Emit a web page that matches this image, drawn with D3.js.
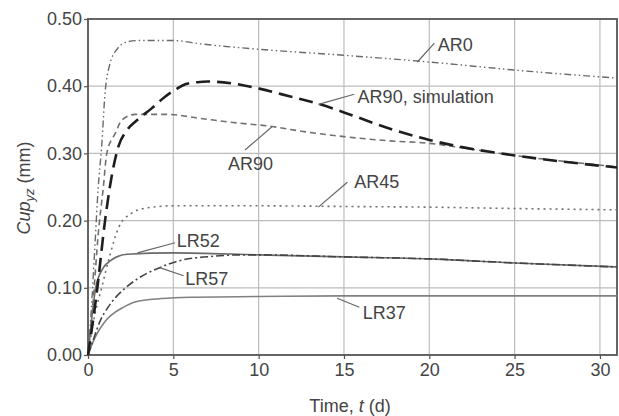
<!DOCTYPE html>
<html><head><meta charset="utf-8">
<script src="https://cdn.jsdelivr.net/npm/d3@7"></script>
<style>body{margin:0;background:#fff}svg{display:block}</style>
</head><body>
<svg id="c" width="619" height="416"></svg>
<script>
// ---- data ----
const xTicks = [0,5,10,15,20,25,30];
const yTicks = [0.00,0.10,0.20,0.30,0.40,0.50];

const AR0_t = [0,0.2,0.4,0.6,0.8,1.0,1.25,1.7,2.3,3,5,6.6,10,15,20,25,31];
const AR0_v = [0,0.07,0.16,0.25,0.31,0.39,0.43,0.455,0.466,0.468,0.468,0.463,0.455,0.446,0.436,0.424,0.412];

const SIM_t = [0,0.5,1.0,1.3,1.78,2.27,2.85,3.73,4.5,5.2,5.7,6.4,7.0,8.5,10.1,11.8,13.6,15,17.9,20,22,25,31];
const SIM_v = [0,0.09,0.2,0.253,0.31,0.334,0.349,0.367,0.384,0.396,0.403,0.406,0.407,0.404,0.396,0.385,0.373,0.361,0.335,0.320,0.309,0.297,0.279];

const AR90_t = [0,0.3,0.6,0.9,1.1,1.6,2.0,2.75,4.7,6.6,8.5,10.8,12.5,15,17.5,20,22,25,31];
const AR90_v = [0,0.08,0.18,0.25,0.30,0.33,0.35,0.358,0.358,0.352,0.346,0.340,0.333,0.325,0.319,0.315,0.308,0.297,0.28];

const AR45_t = [0,0.4,0.8,1.3,1.8,2.5,3.5,5,10,15,20,25,31];
const AR45_v = [0,0.06,0.10,0.15,0.19,0.21,0.219,0.222,0.222,0.221,0.220,0.218,0.216];

const LR52_t = [0,0.2,0.45,0.9,1.3,2.3,5,10,15,20,25,31];
const LR52_v = [0,0.05,0.10,0.13,0.14,0.15,0.152,0.149,0.146,0.143,0.137,0.131];

const LR57_t = [0,0.3,0.7,1.2,1.7,2.2,3,4.2,5.3,7.4,9,10,15,20,25,31];
const LR57_v = [0,0.022,0.05,0.072,0.088,0.10,0.115,0.13,0.14,0.147,0.149,0.149,0.146,0.143,0.137,0.131];

const LR37_t = [0,0.3,0.6,1.0,1.4,2,2.75,4.3,6,10,15,20,25,31];
const LR37_v = [0,0.02,0.035,0.05,0.06,0.07,0.079,0.084,0.086,0.087,0.088,0.088,0.088,0.088];

// ---- layout ----
const svg = d3.select("#c");
const L = 88, R = 617, T = 19, B = 355;
const x = d3.scaleLinear().domain([0,31]).range([L,R]);
const y = d3.scaleLinear().domain([0,0.5]).range([B,T]);
const font = "'Liberation Sans', Arial, sans-serif";
const txt = "#444";
const fs = "18px";

// grid
svg.append("g").selectAll("line").data(xTicks.filter(d=>d>0)).join("line")
  .attr("x1",d=>x(d)).attr("x2",d=>x(d)).attr("y1",T).attr("y2",B)
  .attr("stroke","#bdbdbd").attr("stroke-width",1.2);
svg.append("g").selectAll("line").data(yTicks.filter(d=>d>0 && d<0.5)).join("line")
  .attr("y1",d=>y(d)).attr("y2",d=>y(d)).attr("x1",L).attr("x2",R)
  .attr("stroke","#bdbdbd").attr("stroke-width",1.2);

// axes
const xAxis = svg.append("g").attr("transform",`translate(0,${B})`)
  .call(d3.axisBottom(x).tickValues(xTicks).tickSize(4).tickPadding(4).tickFormat(d3.format("d")));
const yAxis = svg.append("g").attr("transform",`translate(${L},0)`)
  .call(d3.axisLeft(y).tickValues(yTicks).tickSize(4).tickPadding(2).tickFormat(d3.format(".2f")));
[xAxis,yAxis].forEach(a=>{
  a.select(".domain").remove();
  a.selectAll("line").attr("stroke","#555").attr("stroke-width",1.2);
  a.selectAll("text").attr("fill",txt).style("font-family",font).style("font-size",fs);
});

// frame
svg.append("rect").attr("x",L).attr("y",T).attr("width",R-L).attr("height",B-T)
  .attr("fill","none").attr("stroke","#555").attr("stroke-width",1.8);

// curves
const line = d3.line().x(d=>x(d[0])).y(d=>y(d[1])).curve(d3.curveMonotoneX);
const zip = (a,b)=>a.map((t,i)=>[t,b[i]]);
const series = [
  {t:LR37_t,v:LR37_v,c:"#808080",w:1.6,dash:null},
  {t:LR52_t,v:LR52_v,c:"#6a6a6a",w:1.6,dash:null},
  {t:LR57_t,v:LR57_v,c:"#444",w:1.6,dash:"8,3,2,3"},
  {t:AR45_t,v:AR45_v,c:"#707070",w:1.6,dash:"2,4"},
  {t:AR90_t,v:AR90_v,c:"#707070",w:1.6,dash:"6,4"},
  {t:AR0_t,v:AR0_v,c:"#6a6a6a",w:1.4,dash:"7,3,1.5,3,1.5,3"},
  {t:SIM_t,v:SIM_v,c:"#1e1e1e",w:2.6,dash:"14,7"}
];
svg.append("g").selectAll("path").data(series).join("path")
  .attr("d",s=>line(zip(s.t,s.v))).attr("fill","none")
  .attr("stroke",s=>s.c).attr("stroke-width",s=>s.w)
  .attr("stroke-dasharray",s=>s.dash);

// annotations: leader line (data coords) and label position
const labels = [
  {txt:"AR0", p:[19.3,0.436], q:[20.3,0.464], tx:[20.5,0.462]},
  {txt:"AR90, simulation", p:[13.5,0.373], q:[15.6,0.388], tx:[15.8,0.384]},
  {txt:"AR90", p:[9.2,0.305], q:[10.8,0.340], tx:[8.2,0.285]},
  {txt:"AR45", p:[13.5,0.220], q:[15.2,0.257], tx:[15.6,0.258]},
  {txt:"LR52", p:[2.9,0.152], q:[5.1,0.167], tx:[5.2,0.170]},
  {txt:"LR57", p:[4.2,0.130], q:[5.6,0.118], tx:[5.7,0.113]},
  {txt:"LR37", p:[14.6,0.0845], q:[15.9,0.071], tx:[16.1,0.063]}
];
const g = svg.append("g");
g.selectAll("line").data(labels).join("line")
  .attr("x1",d=>x(d.p[0])).attr("y1",d=>y(d.p[1]))
  .attr("x2",d=>x(d.q[0])).attr("y2",d=>y(d.q[1]))
  .attr("stroke","#666").attr("stroke-width",1.2);
g.selectAll("text").data(labels).join("text")
  .attr("x",d=>x(d.tx[0])).attr("y",d=>y(d.tx[1]))
  .attr("dy","0.35em").attr("fill",txt)
  .style("font-family",font).style("font-size",fs)
  .text(d=>d.txt);

// axis titles
const xt = svg.append("text").attr("x",350).attr("y",412).attr("text-anchor","middle")
  .attr("fill",txt).style("font-family",font).style("font-size",fs);
xt.append("tspan").text("Time, ");
xt.append("tspan").attr("font-style","italic").text("t");
xt.append("tspan").text(" (d)");

const yt = svg.append("text").attr("transform","translate(30,188) rotate(-90)")
  .attr("text-anchor","middle").attr("fill",txt)
  .style("font-family",font).style("font-size",fs);
yt.append("tspan").attr("font-style","italic").text("Cup");
yt.append("tspan").attr("font-style","italic").attr("font-size","13px").attr("dy","4").text("yz");
yt.append("tspan").attr("dy","-4").text(" (mm)");
</script>
</body></html>
